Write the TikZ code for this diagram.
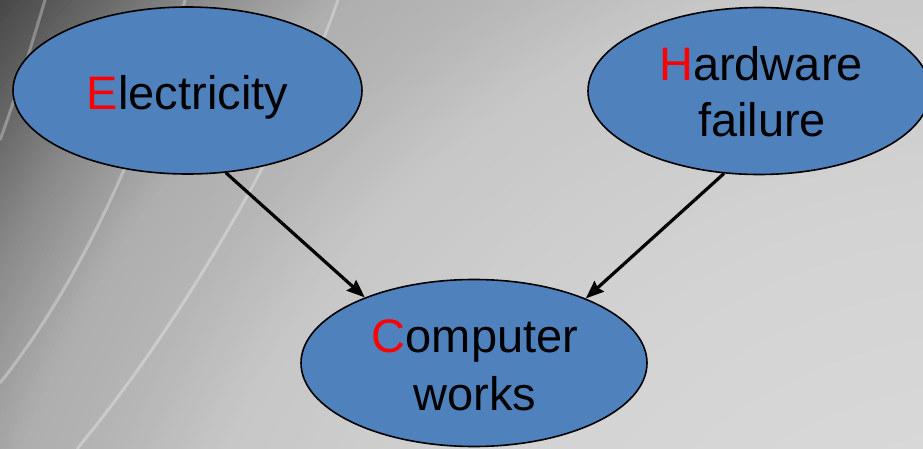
\documentclass[tikz,border=0pt]{standalone}
\usepackage{fontspec}
\setmainfont{Liberation Sans}
\usetikzlibrary{shapes.geometric,arrows.meta}
\definecolor{nodeblue}{HTML}{4F81BD}
\definecolor{g0}{HTML}{DCDCDC}
\definecolor{g1}{HTML}{D8D8D8}
\definecolor{g2}{HTML}{D3D3D3}
\definecolor{g3}{HTML}{C7C7C7}
\definecolor{g4}{HTML}{B6B6B6}
\definecolor{g5}{HTML}{AEAEAE}
\definecolor{g6}{HTML}{8C8C8C}
\definecolor{g7}{HTML}{6A6A6A}
\definecolor{g8}{HTML}{404040}
\tikzset{
  bubble/.style={ellipse, draw=black, line width=1.6pt, fill=nodeblue, inner sep=0pt},
  lbl/.style={anchor=base, font=\fontsize{47}{56}\selectfont, inner sep=0pt},
  conn/.style={line width=3.2pt, -{Stealth[length=18pt,width=14pt,inset=2pt]}},
  streak/.style={white, opacity=0.3, line width=3pt},
}
\begin{document}
\begin{tikzpicture}[x=1pt,y=-1pt]
\useasboundingbox (0,0) rectangle (923,449);
\begin{scope}
\clip (0,0) rectangle (923,449);
\fill[g8] (0,0) rectangle (923,449);
\foreach \ra/\rb/\ca/\cb in {1200/1300/g7/g8, 1130/1200/g6/g7, 1040/1130/g5/g6, 950/1040/g4/g5, 850/950/g3/g4, 600/850/g2/g3, 360/600/g1/g2, 0/360/g0/g1} {
  \foreach \k in {20,19,...,1} {
    \pgfmathsetmacro{\rr}{\ra+(\rb-\ra)*\k/20}
    \pgfmathsetmacro{\pp}{100-\k*5}
    \fill[\ca!\pp!\cb] (1000,800) circle (\rr);
  }
}
\draw[streak] (338,0) .. controls (300,110) and (200,300) .. (77,449);
\draw[streak] (185,0) .. controls (150,120) and (90,270) .. (0,383);
\draw[streak] (45,0) .. controls (30,50) and (15,100) .. (0,140);
\end{scope}

\node[bubble, minimum width=349pt, minimum height=167pt] (e) at (187.5,90.5) {};
\node[bubble, minimum width=342pt, minimum height=167pt] (h) at (759,91) {};
\node[bubble, minimum width=346pt, minimum height=167pt] (c) at (474,363) {};

\node[lbl] (et) at (187.5,110) {\textcolor{red}{E}lectricity};
\node[lbl] (ht1) at (761,81) {\textcolor{red}{H}ardware};
\node[lbl] (ht2) at (762,137) {failure};
\node[lbl] (ct1) at (475,352) {\textcolor{red}{C}omputer};
\node[lbl] (ct2) at (475,410) {works};

\draw[conn] (e.-65) -- (c.149);
\draw[conn] (h.-113) -- (c.30);
\end{tikzpicture}
\end{document}
